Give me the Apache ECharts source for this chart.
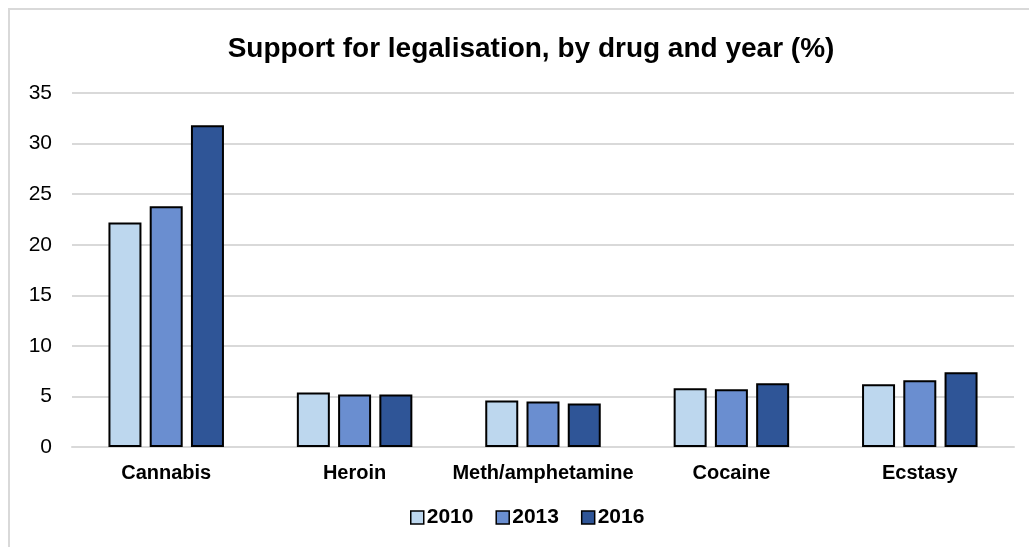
<!DOCTYPE html>
<html>
<head>
<meta charset="utf-8">
<script src="https://cdn.jsdelivr.net/npm/echarts@6/dist/echarts.min.js"></script>
<style>
html,body{margin:0;padding:0;background:#fff;}
#c{width:1029px;height:547px;}
</style>
</head>
<body>
<div id="c"></div>
<script>
const categories = ['Cannabis', 'Heroin', 'Meth/amphetamine', 'Cocaine', 'Ecstasy'];
const seriesNames = ['2010', '2013', '2016'];
const values2010 = [22.2, 5.4, 4.6, 5.8, 6.2];
const values2013 = [23.8, 5.2, 4.5, 5.7, 6.6];
const values2016 = [31.8, 5.2, 4.3, 6.3, 7.4];
const yTicks = { min: 0, max: 35, interval: 5 };
const colors = ['#BDD7EE', '#6A8ED0', '#2F5597'];
const seriesValues = [values2010, values2013, values2016];

const chart = echarts.init(document.getElementById('c'), null, { renderer: 'canvas' });
const font = '"Liberation Sans", Arial, sans-serif';
chart.setOption({
  animation: false,
  backgroundColor: '#fff',
  title: {
    text: 'Support for legalisation, by drug and year (%)',
    left: 526, textAlign: 'center', top: 30,
    textStyle: { fontFamily: font, fontSize: 28, fontWeight: 'bold', color: '#000' }
  },
  graphic: [{
    type: 'rect', shape: { x: 9, y: 9, width: 1100, height: 600 },
    style: { fill: 'none', stroke: '#d9d9d9', lineWidth: 2 }, silent: true, z: -1
  }],
  legend: {
    data: seriesNames,
    bottom: 14, left: 405,
    itemWidth: 13, itemHeight: 13, itemGap: 22,
    icon: 'rect',
    textStyle: { fontFamily: font, fontSize: 21, fontWeight: 'bold', color: '#000', padding: [0, 0, 0, -2] },
    itemStyle: { borderColor: '#000', borderWidth: 1.5 }
  },
  grid: { left: 72, right: 15, top: 93, bottom: 100, containLabel: false },
  xAxis: {
    type: 'category', data: categories,
    axisLine: { lineStyle: { color: '#d9d9d9', width: 2 } },
    axisTick: { show: false },
    axisLabel: { interval: 0, fontFamily: font, fontSize: 20, fontWeight: 'bold', color: '#000', margin: 16 }
  },
  yAxis: {
    type: 'value', min: yTicks.min, max: yTicks.max, interval: yTicks.interval,
    axisLine: { show: false }, axisTick: { show: false },
    splitLine: { lineStyle: { color: '#d9d9d9', width: 2 } },
    axisLabel: { fontFamily: font, fontSize: 21, color: '#000', margin: 20 }
  },
  series: seriesNames.map((n, i) => ({
    name: n, type: 'bar', data: seriesValues[i],
    barWidth: 33, barGap: '25%',
    itemStyle: { color: colors[i], borderColor: '#000', borderWidth: 2 }
  }))
});
</script>
</body>
</html>
